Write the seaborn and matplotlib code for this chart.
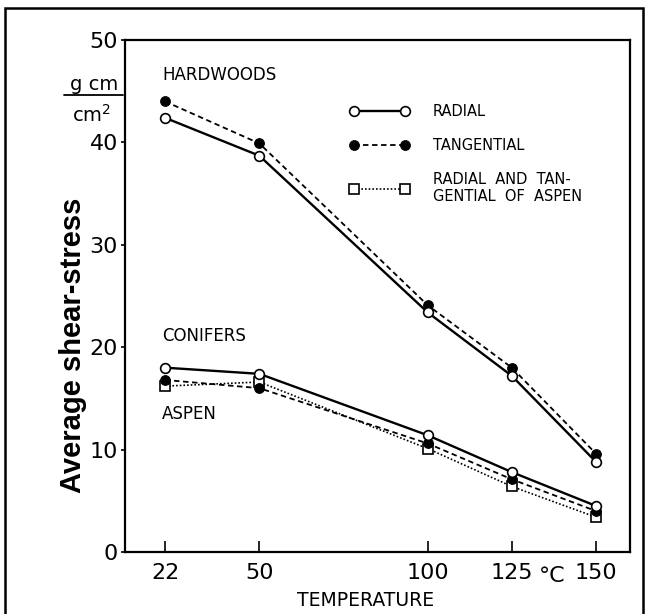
import numpy as np
import pandas as pd
import matplotlib
matplotlib.use('Agg')
import matplotlib.pyplot as plt
from matplotlib.lines import Line2D
from matplotlib.patches import Rectangle
import seaborn as sns

# ------- values ------------------------------------ #
temps = [22, 50, 100, 125, 150]
hard_radial = [42.4, 38.7, 23.4, 17.2, 8.8]
hard_tang = [44.0, 39.9, 24.1, 18.0, 9.6]
conif_radial = [18.0, 17.4, 11.4, 7.8, 4.5]
conif_tang = [16.8, 16.0, 10.6, 7.1, 4.0]
aspen = [16.2, 16.6, 10.1, 6.4, 3.4]
yticks = [0, 10, 20, 30, 40, 50]

sns.set_style('ticks')
plt.rcParams['font.family'] = ['DejaVu Sans']
for k in ['text.color', 'axes.labelcolor', 'xtick.color', 'ytick.color', 'axes.edgecolor']:
    plt.rcParams[k] = 'black'

fig = plt.figure(figsize=(6.5, 6.14), dpi=100)
ax = fig.add_axes([125 / 650, 1 - 552 / 614, 505 / 650, 512 / 614])

open_circ = dict(marker='o', markersize=7, markerfacecolor='white', markeredgecolor='black', markeredgewidth=1.2)
full_circ = dict(marker='o', markersize=7, markerfacecolor='black', markeredgecolor='black')
open_sq = dict(marker='s', markersize=6.5, markerfacecolor='white', markeredgecolor='black', markeredgewidth=1.2)

# aspen first so the others sit on top
sns.lineplot(x=temps, y=aspen, ax=ax, color='black', lw=1.2, linestyle=(0, (1, 1.2)), zorder=2,
             label='RADIAL  AND  TAN-\nGENTIAL  OF  ASPEN', **open_sq)
sns.lineplot(x=temps, y=hard_tang, ax=ax, color='black', lw=1.3, linestyle=(0, (3, 2)), zorder=3,
             label='TANGENTIAL', **full_circ)
sns.lineplot(x=temps, y=conif_tang, ax=ax, color='black', lw=1.3, linestyle=(0, (3, 2)), zorder=3,
             **full_circ)
sns.lineplot(x=temps, y=hard_radial, ax=ax, color='black', lw=1.7, zorder=4,
             label='RADIAL', **open_circ)
sns.lineplot(x=temps, y=conif_radial, ax=ax, color='black', lw=1.7, zorder=4, **open_circ)

ax.set_xlim(10.1, 160.1)
ax.set_ylim(0, 50)
ax.set_xticks(temps)
ax.set_xticklabels([str(t) for t in temps])
ax.set_yticks(yticks)
ax.tick_params(axis='x', direction='in', length=8, width=1.2, pad=8, labelsize=16)
ax.tick_params(axis='y', direction='out', length=3, width=1.2, pad=2, labelsize=16)
for s in ax.spines.values():
    s.set_linewidth(1.6)

# legend order as in the figure
h, l = ax.get_legend_handles_labels()
order = [l.index('RADIAL'), l.index('TANGENTIAL'), l.index('RADIAL  AND  TAN-\nGENTIAL  OF  ASPEN')]
ax.legend([h[i] for i in order], [l[i] for i in order], loc='upper left',
          bbox_to_anchor=((350 - 125) / 505, (552 - 104) / 512), frameon=False,
          fontsize=10.5, handlelength=4.1, handletextpad=1.6, labelspacing=1.3,
          borderpad=0, borderaxespad=0, numpoints=2)

ax.text(21.1, 46.6, 'HARDWOODS', fontsize=12, va='center')
ax.text(21.1, 21.1, 'CONIFERS', fontsize=12, va='center')
ax.text(21.1, 13.5, 'ASPEN', fontsize=12, va='center')
ax.text(137, -0.047, '°C', fontsize=16, ha='center', va='center',
        transform=ax.get_xaxis_transform())

ax.set_ylabel('Average shear-stress', fontsize=21, fontweight='bold',
              family=['Liberation Sans', 'DejaVu Sans'])
ax.yaxis.set_label_coords(-0.076, 0.404)

# unit written as a fraction
fig.text(94 / 650, 1 - 84 / 614, 'g cm', fontsize=14, ha='center', va='center')
fig.text(92 / 650, 1 - 115 / 614, 'cm$^2$', fontsize=14, ha='center', va='center')
fig.add_artist(Line2D([64 / 650, 123 / 650], [1 - 95 / 614, 1 - 95 / 614], color='black', lw=1.3))

fig.text(366 / 650, 1 - 591 / 614, 'TEMPERATURE', fontsize=13.5, ha='center', va='top')

# outer frame round the whole picture
fig.add_artist(Rectangle((5 / 650, -0.05), 638 / 650, 1.05 - 8 / 614, fill=False,
                         edgecolor='black', lw=1.8, transform=fig.transFigure))

fig.savefig('out.png', dpi=100)
